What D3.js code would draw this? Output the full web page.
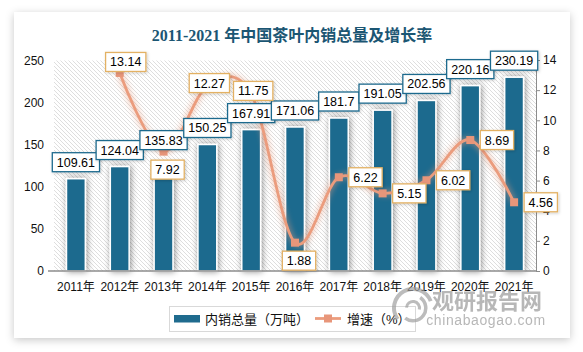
<!DOCTYPE html>
<html>
<head>
<meta charset="utf-8">
<script src="https://cdn.jsdelivr.net/npm/d3@7"></script>
<style>
  body { margin: 0; background: #fff; }
</style>
</head>
<body>
<div id="chart"></div>
<script>
const years = ["2011年", "2012年", "2013年", "2014年", "2015年", "2016年", "2017年", "2018年", "2019年", "2020年", "2021年"];
const sales = [109.61, 124.04, 135.83, 150.25, 167.91, 171.06, 181.7, 191.05, 202.56, 220.16, 230.19];
// bar heights as drawn in the source picture (the 2013 bar is drawn shorter than its label)
const salesBars = [109.61, 124.04, 112, 150.25, 167.91, 171.06, 181.7, 191.05, 202.56, 220.16, 230.19];
const growth = [null, 13.14, 7.92, 12.27, 11.75, 1.88, 6.22, 5.15, 6.02, 8.69, 4.56];
const leftTicks = [0, 50, 100, 150, 200, 250];
const rightTicks = [0, 2, 4, 6, 8, 10, 12, 14];

const width = 583;
const height = 352;
const plot = { left: 54, right: 536, top: 60.5, bottom: 271 };
const blue = "#1f6b8e";
const orange = "#eb9c7d";
const font = "'Liberation Sans', 'Noto Sans CJK SC', sans-serif";

// where each growth label sits relative to its point (Excel label setting)
const growthSide = [null, "top", "bottom", "center", "center", "bottom", "right", "right", "right", "right", "right"];

const svg = d3.select("#chart")
    .append("svg")
    .attr("width", width)
    .attr("height", height)
    .style("font-family", font);

const defs = svg.append("defs");

const panelShadow = defs.append("filter").attr("id", "panelShadow")
    .attr("x", "-10%").attr("y", "-10%").attr("width", "120%").attr("height", "120%");
panelShadow.append("feDropShadow")
    .attr("dx", 0).attr("dy", 2).attr("stdDeviation", 4)
    .attr("flood-color", "#000").attr("flood-opacity", 0.22);

const barShadow = defs.append("filter").attr("id", "barShadow")
    .attr("x", "-80%").attr("y", "-10%").attr("width", "260%").attr("height", "120%");
barShadow.append("feDropShadow")
    .attr("dx", 1).attr("dy", 0).attr("stdDeviation", 3)
    .attr("flood-color", "#000").attr("flood-opacity", 0.45);

const boxShadow = defs.append("filter").attr("id", "boxShadow")
    .attr("x", "-30%").attr("y", "-30%").attr("width", "160%").attr("height", "160%");
boxShadow.append("feDropShadow")
    .attr("dx", 1).attr("dy", 1).attr("stdDeviation", 1.5)
    .attr("flood-color", "#000").attr("flood-opacity", 0.2);

const lineGlow = defs.append("filter").attr("id", "lineGlow")
    .attr("x", "-10%").attr("y", "-10%").attr("width", "120%").attr("height", "120%");
lineGlow.append("feGaussianBlur").attr("in", "SourceGraphic").attr("stdDeviation", 3).attr("result", "b");
const lgm = lineGlow.append("feMerge");
lgm.append("feMergeNode").attr("in", "b");
lgm.append("feMergeNode").attr("in", "SourceGraphic");

const hatch = defs.append("pattern").attr("id", "hatch")
    .attr("patternUnits", "userSpaceOnUse")
    .attr("width", 4).attr("height", 4);
hatch.append("rect").attr("width", 4).attr("height", 4).attr("fill", "#fff");
hatch.append("path")
    .attr("d", "M-1,-1L5,5M3,-1L5,1M-1,3L1,5")
    .attr("stroke", "#dedede").attr("stroke-width", 1);

// card
svg.append("rect")
    .attr("x", 14).attr("y", 12)
    .attr("width", 556).attr("height", 326)
    .attr("fill", "#fff")
    .attr("filter", "url(#panelShadow)");

svg.append("text")
    .attr("x", 292).attr("y", 41)
    .attr("text-anchor", "middle")
    .style("font-family", "'Liberation Serif', 'Noto Sans CJK SC', serif")
    .style("font-size", "16px")
    .style("font-weight", "bold")
    .attr("fill", "#1b5673")
    .text("2011-2021 年中国茶叶内销总量及增长率");

const x = d3.scaleBand()
    .domain(years)
    .range([plot.left, plot.right])
    .paddingInner(0.57)
    .paddingOuter(0.285);

const y = d3.scaleLinear().domain([0, 250]).range([plot.bottom, plot.top]);
const y2 = d3.scaleLinear().domain([0, 14]).range([plot.bottom, 60]);
const cx = d => x(d) + x.bandwidth() / 2;

// hatched plot area
svg.append("rect")
    .attr("x", plot.left).attr("y", plot.top)
    .attr("width", plot.right - plot.left)
    .attr("height", plot.bottom - plot.top)
    .attr("fill", "url(#hatch)");

// bars
svg.append("g").selectAll("rect")
    .data(years)
    .enter()
    .append("rect")
    .attr("x", d => x(d))
    .attr("y", (d, i) => y(salesBars[i]))
    .attr("width", x.bandwidth())
    .attr("height", (d, i) => y(0) - y(salesBars[i]))
    .attr("fill", blue)
    .attr("stroke", "#fff")
    .attr("stroke-width", 1.5)
    .attr("filter", "url(#barShadow)");

// left axis
svg.append("g")
    .attr("transform", `translate(${plot.left - 6},0)`)
    .call(d3.axisLeft(y).tickValues(leftTicks).tickSize(0).tickPadding(4))
    .call(g => g.select(".domain").remove())
    .selectAll("text")
    .style("font-family", font)
    .style("font-size", "12px")
    .attr("fill", "#111");

// right axis
svg.append("g")
    .attr("transform", `translate(${plot.right},0)`)
    .call(d3.axisRight(y2).tickValues(rightTicks).tickSize(4).tickSizeOuter(0).tickPadding(3))
    .call(g => g.select(".domain").attr("stroke", "#8c8c8c"))
    .call(g => g.selectAll("line").attr("stroke", "#8c8c8c"))
    .selectAll("text")
    .style("font-family", font)
    .style("font-size", "12px")
    .attr("fill", "#111");

// bottom axis
svg.append("g")
    .attr("transform", `translate(0,${plot.bottom})`)
    .call(d3.axisBottom(x).tickSize(0).tickPadding(11))
    .call(g => g.select(".domain").attr("d", `M${plot.left - 6},0H${plot.right}`)
        .attr("stroke", "#8c8c8c").attr("stroke-width", 1.5))
    .selectAll("text")
    .style("font-family", font)
    .style("font-size", "12px")
    .attr("fill", "#111");

// growth line
const growthPts = years.map((d, i) => ({ year: d, v: growth[i], side: growthSide[i] }))
    .filter(d => d.v !== null);

const line = d3.line()
    .x(d => cx(d.year))
    .y(d => y2(d.v))
    .curve(d3.curveCardinal.tension(0));

svg.append("path")
    .datum(growthPts)
    .attr("d", line)
    .attr("fill", "none")
    .attr("stroke", orange)
    .attr("stroke-width", 2.8)
    .attr("filter", "url(#lineGlow)");

svg.append("g").selectAll("rect")
    .data(growthPts)
    .enter()
    .append("rect")
    .attr("x", d => cx(d.year) - 4)
    .attr("y", d => y2(d.v) - 4)
    .attr("width", 8).attr("height", 8)
    .attr("fill", "#e8967a");

// label helper
function labelBox(g, txt, xc, yc, stroke) {
    const t = g.append("text")
        .attr("x", xc).attr("y", yc)
        .attr("text-anchor", "middle")
        .attr("dy", "0.36em")
        .style("font-size", "12.5px")
        .attr("fill", "#000")
        .text(txt);
    const w = t.node().getComputedTextLength() + 9;
    g.insert("rect", "text")
        .attr("x", xc - w / 2).attr("y", yc - 9.5)
        .attr("width", w).attr("height", 19)
        .attr("fill", "#fff")
        .attr("stroke", stroke)
        .attr("stroke-width", 1.3)
        .attr("filter", "url(#boxShadow)");
    return w;
}

// sales labels
years.forEach((d, i) => {
    const g = svg.append("g");
    labelBox(g, sales[i], cx(d), y(sales[i]) - 7 - 9.5, blue);
});

// growth labels
growthPts.forEach(d => {
    const g = svg.append("g");
    const px = cx(d.year), py = y2(d.v);
    const txt = d.v.toFixed(2);
    if (d.side === "top") labelBox(g, txt, px + 6, py - 11, "#e3b164");
    else if (d.side === "bottom") labelBox(g, txt, px + 4, py + 18, "#e3b164");
    else if (d.side === "center") labelBox(g, txt, px + 2, py - 3, "#e3b164");
    else {
        const probe = g.append("text").style("font-size", "12.5px").text(txt);
        const w = probe.node().getComputedTextLength() + 9;
        probe.remove();
        labelBox(g, txt, px + 10 + w / 2, py, "#e3b164");
    }
});

// legend
const legend = svg.append("g");
legend.append("rect")
    .attr("x", 169.5).attr("y", 306.5)
    .attr("width", 246).attr("height", 25)
    .attr("fill", "#fff")
    .attr("stroke", "#d9d9d9");
legend.append("rect")
    .attr("x", 174).attr("y", 315)
    .attr("width", 26).attr("height", 7.5)
    .attr("fill", blue);
legend.append("text")
    .attr("x", 205).attr("y", 319).attr("dy", "0.36em")
    .style("font-size", "13px").attr("fill", "#111")
    .text("内销总量（万吨）");
legend.append("line")
    .attr("x1", 315).attr("x2", 341)
    .attr("y1", 318.5).attr("y2", 318.5)
    .attr("stroke", orange).attr("stroke-width", 2.8);
legend.append("rect")
    .attr("x", 324).attr("y", 314.5)
    .attr("width", 8).attr("height", 8)
    .attr("fill", "#e8967a");
legend.append("text")
    .attr("x", 347).attr("y", 319).attr("dy", "0.36em")
    .style("font-size", "13px").attr("fill", "#111")
    .text("增速（%）");

// watermark
const wm = svg.append("g").attr("opacity", 0.7);
const logo = wm.append("g").attr("transform", "translate(413,308)");
const arcGen = d3.arc();
[[17, 21, -2.2, 1.2], [11, 14.5, 0.6, 3.8], [5, 8, -1.5, 1.8]].forEach(a => {
    logo.append("path")
        .attr("d", arcGen({ innerRadius: a[0], outerRadius: a[1], startAngle: a[2], endAngle: a[3] }))
        .attr("fill", "#a0a0a0");
});
wm.append("text")
    .attr("x", 487).attr("y", 309)
    .attr("text-anchor", "middle")
    .style("font-size", "22px")
    .style("font-weight", "bold")
    .attr("fill", "#999")
    .text("观研报告网");
wm.append("text")
    .attr("x", 486).attr("y", 325)
    .attr("text-anchor", "middle")
    .style("font-size", "14px")
    .attr("letter-spacing", "0.6px")
    .attr("fill", "#999")
    .text("chinabaogao.com");
</script>
</body>
</html>
